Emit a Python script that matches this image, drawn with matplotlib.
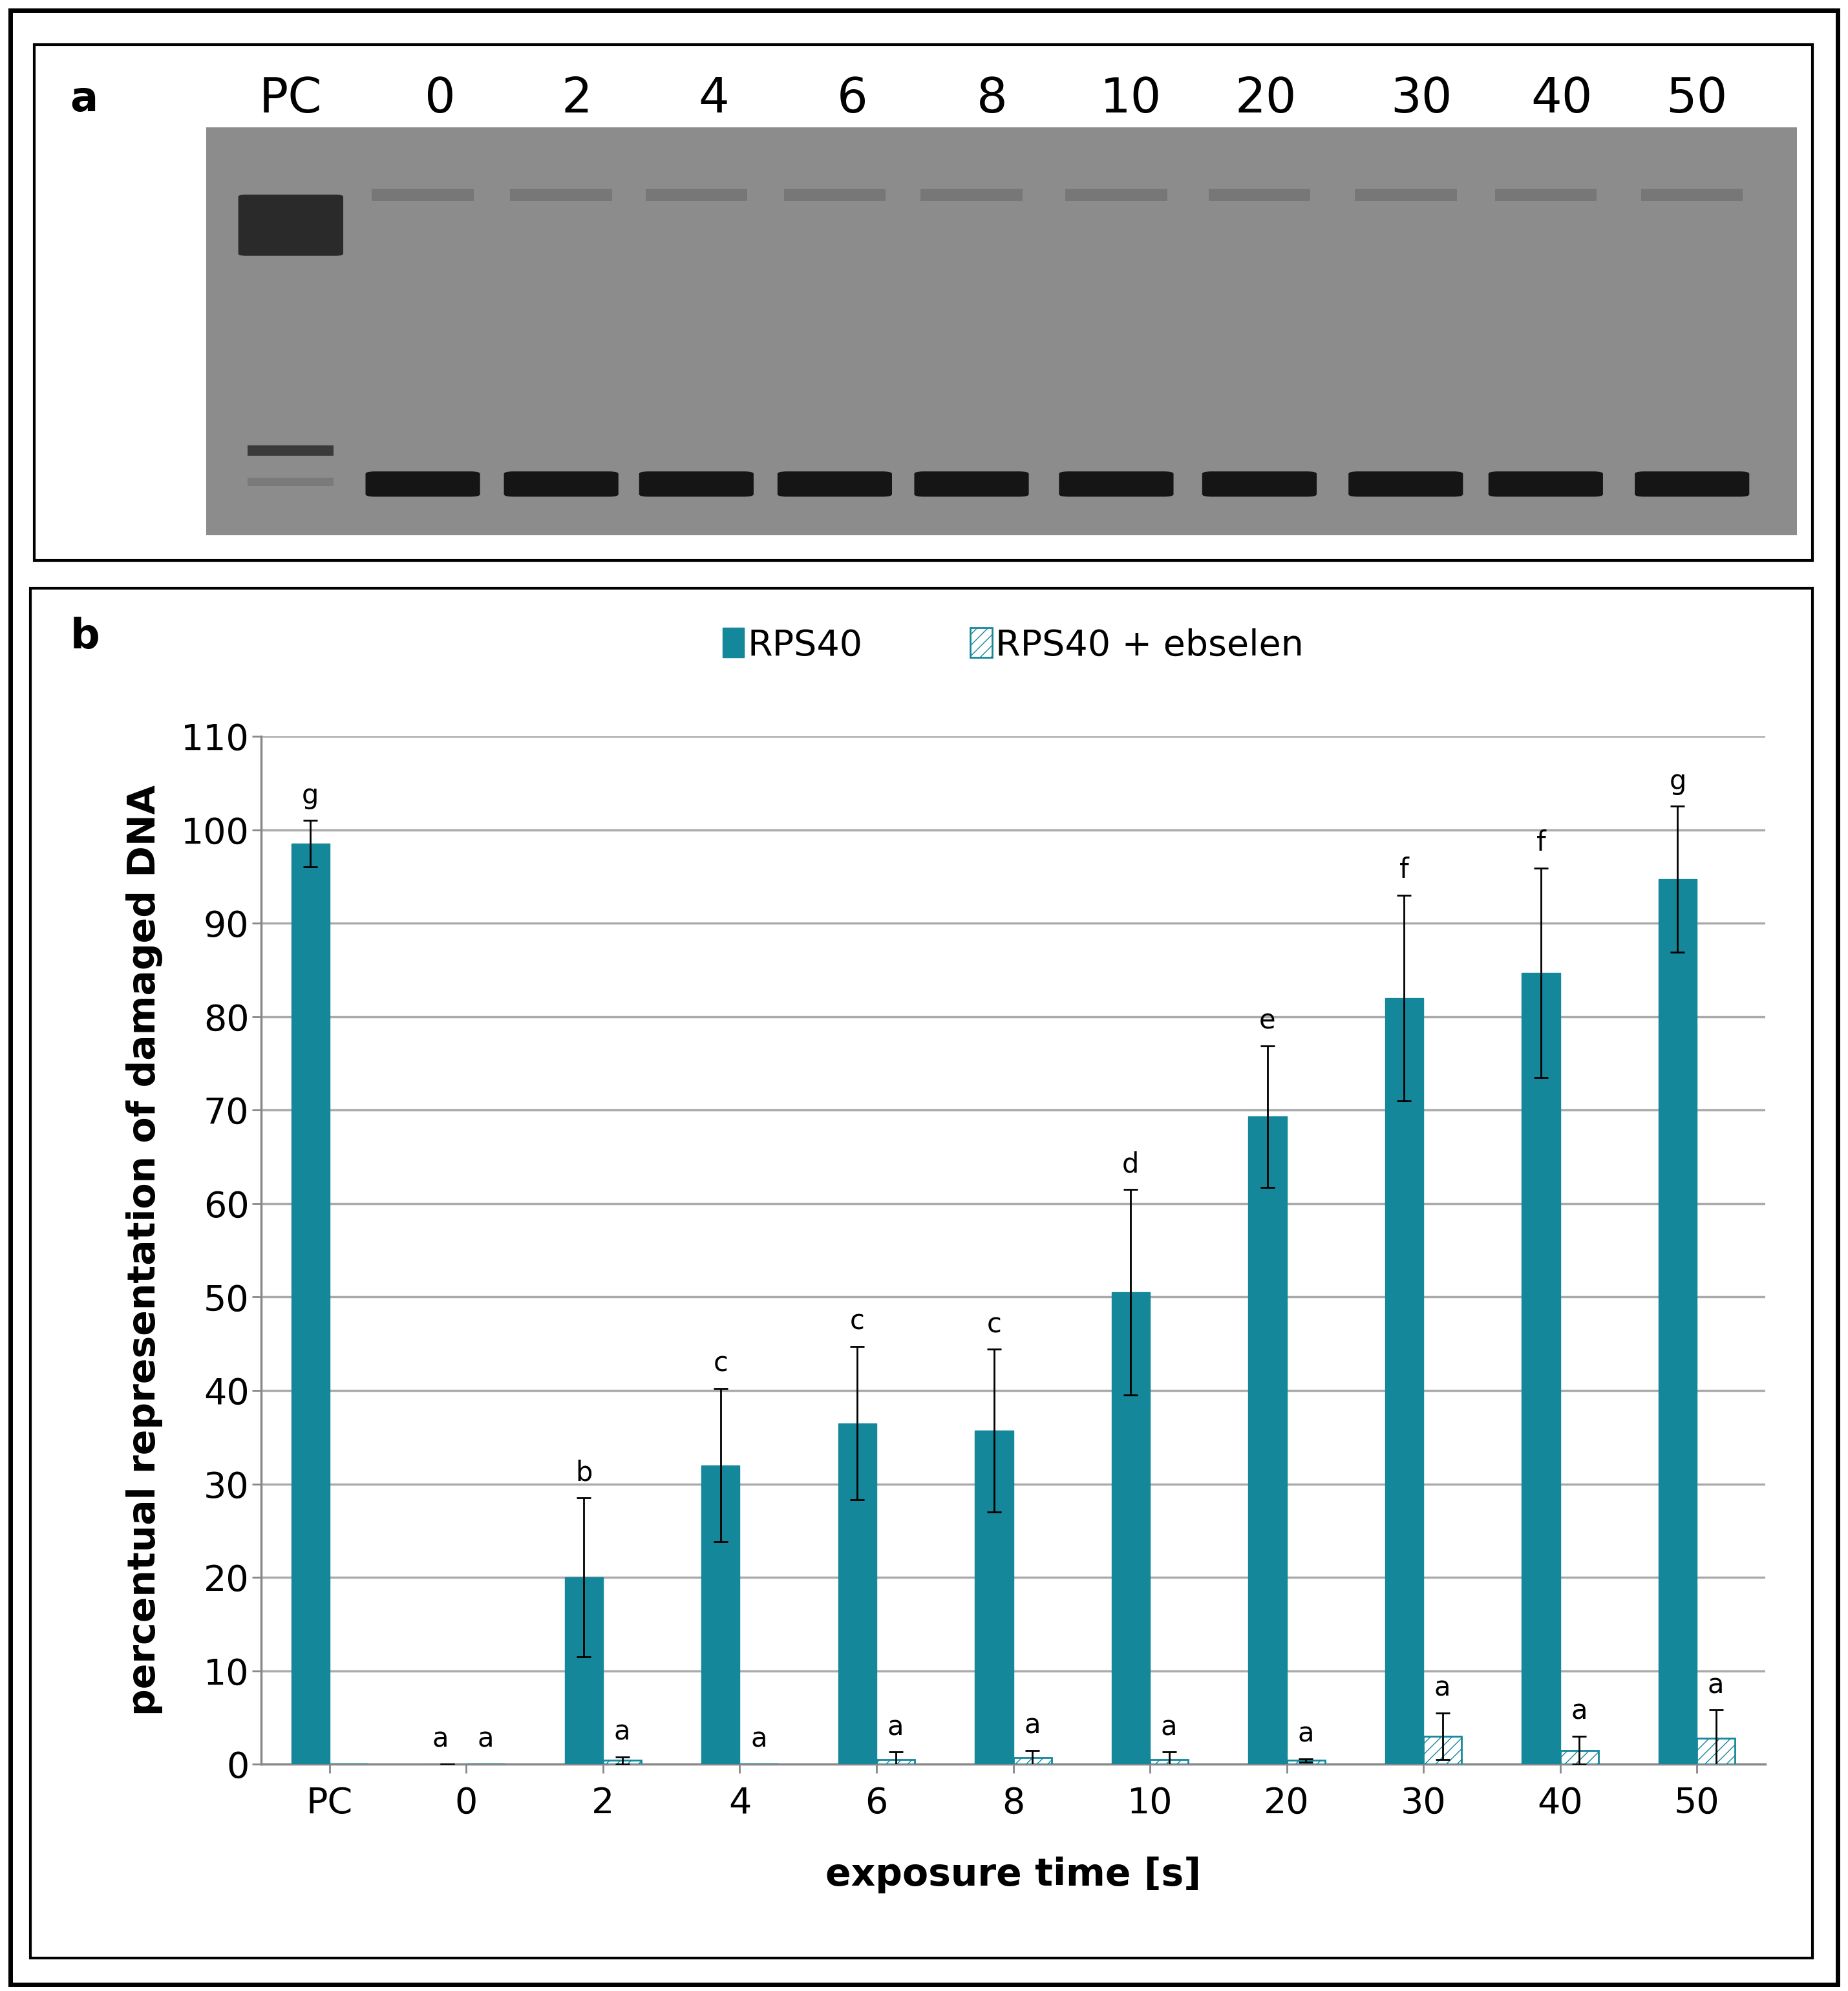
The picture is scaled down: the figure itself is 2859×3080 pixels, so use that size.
import matplotlib.pyplot as plt
import numpy as np
from matplotlib.patches import Rectangle, FancyBboxPatch

# data
categories = ['PC', '0', '2', '4', '6', '8', '10', '20', '30', '40', '50']
rps40 = [98.5, 0, 20.0, 32.0, 36.5, 35.7, 50.5, 69.3, 82.0, 84.7, 94.7]
rps40_err = [2.5, 0, 8.5, 8.2, 8.2, 8.7, 11.0, 7.6, 11.0, 11.2, 7.8]
ebselen = [0, 0, 0.4, 0, 0.5, 0.7, 0.5, 0.4, 3.0, 1.5, 2.8]
ebselen_err = [0, 0, 0.4, 0, 0.8, 0.8, 0.8, 0.2, 2.5, 1.5, 3.0]
rps40_letters = ['g', 'a', 'b', 'c', 'c', 'c', 'd', 'e', 'f', 'f', 'g']
ebselen_letters = ['', 'a', 'a', 'a', 'a', 'a', 'a', 'a', 'a', 'a', 'a']

# gel lanes (relative positions along the gel, 0..1)
gel_labels = ['PC', '0', '2', '4', '6', '8', '10', '20', '30', '40', '50']
label_pos = [0.053, 0.147, 0.233, 0.319, 0.406, 0.494, 0.581, 0.666, 0.764, 0.852, 0.937]
lane_pos = [0.053, 0.136, 0.223, 0.308, 0.395, 0.481, 0.572, 0.662, 0.754, 0.842, 0.934]

teal = '#14879a'
W, H = 1450, 1563

fig = plt.figure(figsize=(28.59, 30.8), dpi=100)

def box(x0, y0, x1, y1, lw):
    fig.patches.append(Rectangle((x0 / W, 1 - y1 / H), (x1 - x0) / W, (y1 - y0) / H,
                                 transform=fig.transFigure, fill=False, ec='black', lw=lw))

box(8, 8, 1442, 1558, 5)
box(27, 35, 1422, 440, 3)
box(24, 462, 1422, 1537, 3)

# panel a: gel
gx = fig.add_axes([162 / W, 1 - 420 / H, (1410 - 162) / W, (420 - 100) / H])
gx.set_xlim(0, 1)
gx.set_ylim(1, 0)
gx.set_facecolor('#8c8c8c')
gx.set_xticks([])
gx.set_yticks([])
for s in gx.spines.values():
    s.set_visible(False)
for i, x in enumerate(lane_pos):
    if i == 0:
        gx.add_patch(FancyBboxPatch((x - 0.028, 0.17), 0.056, 0.14, boxstyle='round,pad=0.005',
                                    fc='#2a2a2a', ec='none'))
        gx.add_patch(Rectangle((x - 0.027, 0.78), 0.054, 0.025, fc='#3a3a3a', ec='none'))
        gx.add_patch(Rectangle((x - 0.027, 0.86), 0.054, 0.02, fc='#7a7a7a', ec='none'))
    else:
        gx.add_patch(Rectangle((x - 0.032, 0.15), 0.064, 0.03, fc='#777777', ec='none'))
        gx.add_patch(FancyBboxPatch((x - 0.03, 0.85), 0.06, 0.05, boxstyle='round,pad=0.006',
                                    fc='#151515', ec='none'))
for lab, x in zip(gel_labels, label_pos):
    fig.text((162 + x * 1248) / W, 1 - 78 / H, lab, fontsize=54, ha='center', va='center')
fig.text(55 / W, 1 - 78 / H, 'a', fontsize=46, fontweight='bold', va='center')

# panel b: bar chart
ax = fig.add_axes([205 / W, 1 - 1385 / H, (1385 - 205) / W, (1385 - 578) / H])
x = np.arange(len(categories))
w = 0.28
ax.bar(x - w / 2, rps40, w, color=teal, edgecolor=teal, zorder=3, label='RPS40')
ax.errorbar(x - w / 2, rps40, yerr=rps40_err, fmt='none', ecolor='black', elinewidth=2,
            capsize=8, capthick=2, zorder=4)
eb = np.array(ebselen)
ax.bar(x + w / 2, eb, w, color='white', edgecolor=teal, hatch='//', lw=2, zorder=3,
       label='RPS40 + ebselen')
ax.errorbar((x + w / 2)[eb > 0], eb[eb > 0], yerr=np.array(ebselen_err)[eb > 0], fmt='none',
            ecolor='black', elinewidth=2, capsize=8, capthick=2, zorder=4)
for i in range(len(categories)):
    top = rps40[i] + rps40_err[i]
    ax.text(x[i] - w / 2 - (0.05 if i == 1 else 0), top + 1.2, rps40_letters[i], fontsize=30,
            ha='center', va='bottom')
    if ebselen_letters[i]:
        ax.text(x[i] + w / 2, eb[i] + ebselen_err[i] + 1.2, ebselen_letters[i], fontsize=30,
                ha='center', va='bottom')
ax.set_xlim(-0.5, len(categories) - 0.5)
ax.set_ylim(0, 110)
ax.set_yticks(range(0, 111, 10))
ax.set_xticks(x)
ax.set_xticklabels(categories)
ax.tick_params(axis='both', labelsize=40, length=10, width=2, color='#888888')
ax.tick_params(axis='x', pad=14)
ax.yaxis.grid(True, color='#aaaaaa', lw=2.5, zorder=0)
for s in ['top', 'right']:
    ax.spines[s].set_visible(False)
for s in ['left', 'bottom']:
    ax.spines[s].set_color('#888888')
    ax.spines[s].set_linewidth(2.5)
ax.set_xlabel('exposure time [s]', fontsize=42, fontweight='bold', labelpad=40)
ax.set_ylabel('percentual representation of damaged DNA', fontsize=42, fontweight='bold',
              labelpad=20)
ax.legend(loc='lower center', bbox_to_anchor=(0.5, 1.04), ncol=2, frameon=False, fontsize=40,
          handlelength=0.6, handleheight=0.9, handletextpad=0.1, columnspacing=3)
fig.text(55 / W, 1 - 500 / H, 'b', fontsize=46, fontweight='bold', va='center')

fig.savefig('out.png', dpi=100)
